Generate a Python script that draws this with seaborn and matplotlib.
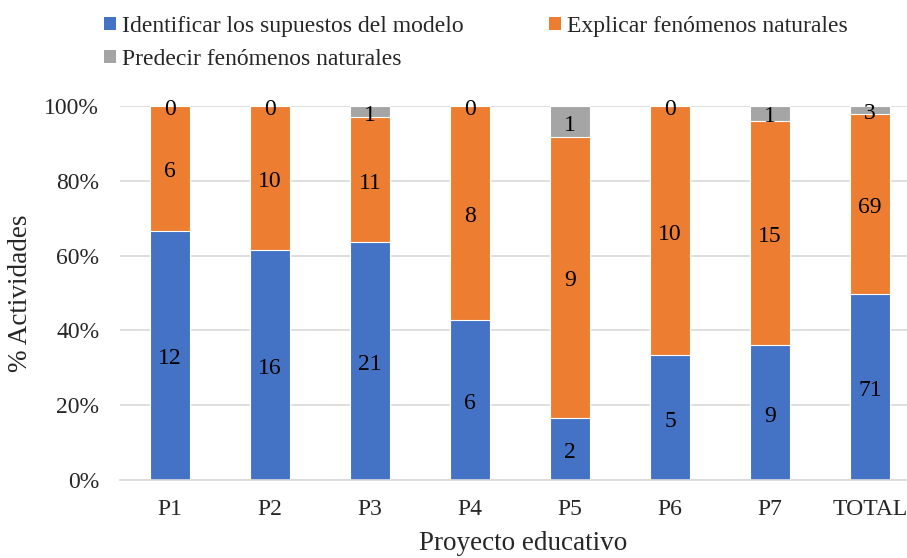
import numpy as np
import pandas as pd
import matplotlib
matplotlib.use("Agg")
import matplotlib.pyplot as plt
import seaborn as sns
from matplotlib.patches import Patch

categories = ["P1", "P2", "P3", "P4", "P5", "P6", "P7", "TOTAL"]
identificar = [12, 16, 21, 6, 2, 5, 9, 71]
explicar = [6, 10, 11, 8, 9, 10, 15, 69]
predecir = [0, 0, 1, 0, 1, 0, 1, 3]
series_names = ["Identificar los supuestos del modelo",
                "Explicar fenómenos naturales",
                "Predecir fenómenos naturales"]
colors = ["#4472C4", "#ED7D31", "#A5A5A5"]

sns.set_theme(style="white")
plt.rcParams['font.family'] = ['Liberation Serif', 'DejaVu Serif']
FS = 17
FT = 19.5

ident = np.array(identificar, float)
expl = np.array(explicar, float)
pred = np.array(predecir, float)
tot = ident + expl + pred
p1 = ident / tot * 100
p2 = expl / tot * 100
p3 = pred / tot * 100
c1 = p1
c2 = p1 + p2
c3 = p1 + p2 + p3

df = pd.DataFrame({"cat": categories, "c1": c1, "c2": c2, "c3": c3})

fig = plt.figure(figsize=(9.07, 5.58), dpi=100)
ax = fig.add_axes([120/907, 1-480/558, 800/907, 374/558])

for col, colr in zip(["c3", "c2", "c1"], colors[::-1]):
    sns.barplot(data=df, x="cat", y=col, color=colr, width=0.4, ax=ax,
                order=categories, edgecolor="white", linewidth=0.8,
                saturation=1, zorder=2)

ax.set_xlim(-0.5, 7.5)
ax.set_ylim(0, 100)
ax.set_yticks(np.arange(0, 101, 20))
ax.set_yticklabels([f"{v}%" for v in range(0, 101, 20)], fontsize=FS)
ax.set_xticks(range(len(categories)))
ax.set_xticklabels(categories, fontsize=FS)
ax.tick_params(axis='y', length=0, pad=15)
ax.tick_params(axis='x', length=0, pad=14)
ax.yaxis.grid(True, color="#D9D9D9", linewidth=1.2, zorder=0)
ax.set_axisbelow(True)
for s in ["top", "right", "left"]:
    ax.spines[s].set_visible(False)
ax.spines["bottom"].set_color("#D9D9D9")
ax.spines["bottom"].set_linewidth(1.2)
ax.set_xlabel("")
ax.set_ylabel("")

def lab(x, y, v):
    ax.annotate(f"{v}", (x, y), xytext=(0, -2.5), textcoords="offset points",
                ha="center", va="center", fontsize=FS, color="black", zorder=5)

for i in range(len(categories)):
    lab(i, p1[i] / 2, identificar[i])
    lab(i, p1[i] + p2[i] / 2, explicar[i])
    lab(i, c2[i] + p3[i] / 2, predecir[i])

fig.text(21/907, 1-293/558, "% Actividades", rotation=90, ha="center", va="center", fontsize=FT)
fig.text(523/907, 1-550/558, "Proyecto educativo", ha="center", va="baseline", fontsize=FT)

handles = [Patch(facecolor=c, edgecolor="none") for c in colors]
order = [0, 2, 1]
leg = fig.legend([handles[i] for i in order], [series_names[i] for i in order],
                 ncol=2, loc="upper left", bbox_to_anchor=(104/907, 1 - 16/558),
                 frameon=False, fontsize=FS, handlelength=0.51, handleheight=0.51,
                 handletextpad=0.24, columnspacing=3.64, labelspacing=0.5,
                 borderpad=0, borderaxespad=0)

fig.savefig("out.png", dpi=100)
